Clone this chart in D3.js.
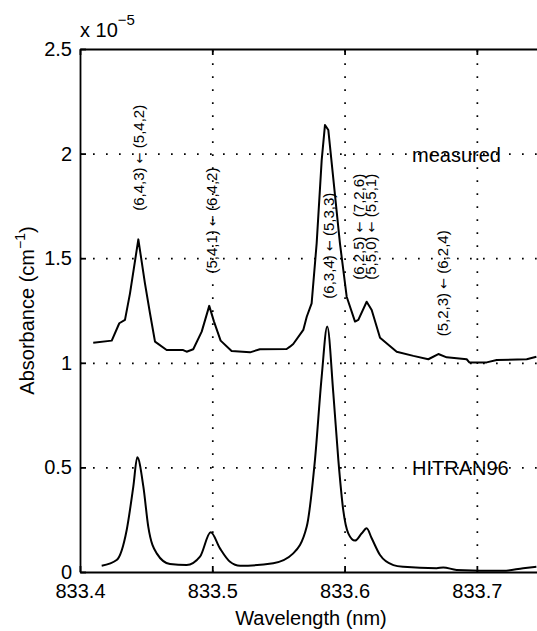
<!DOCTYPE html>
<html>
<head>
<meta charset="utf-8">
<script src="https://cdn.jsdelivr.net/npm/d3@7"></script>
<style>
  body { margin: 0; background: #fff; }
  svg { display: block; font-family: "Liberation Sans", Arial, sans-serif; }
  .grid line { stroke: #000; stroke-width: 1.7; stroke-dasharray: 1.7 11.3; }
  .grid .domain { display: none; }
  .axis .domain, .axis line { stroke: #000; stroke-width: 1.8; }
</style>
</head>
<body>
<div id="chart"></div>
<script>
// measured spectrum (wavelength nm, absorbance x1e-5)
const measuredWl = [833.410, 833.424, 833.4297, 833.434, 833.4378, 833.4441, 833.4491, 833.4529, 833.4567, 833.4655,
  833.478, 833.4806, 833.4856, 833.492, 833.4977, 833.5013, 833.5063, 833.5146, 833.5285, 833.536,
  833.5562, 833.5587, 833.5612, 833.5688, 833.5714, 833.5751, 833.5789, 833.5827, 833.5852, 833.5877,
  833.5965, 833.6016, 833.6079, 833.6104, 833.6167, 833.6205, 833.6268, 833.6394, 833.652, 833.6633,
  833.6709, 833.6772, 833.6923, 833.6943, 833.7074, 833.715, 833.7377, 833.745];
const measuredAbs = [1.096, 1.106, 1.189, 1.205, 1.332, 1.590, 1.380, 1.237, 1.101, 1.061,
  1.061, 1.053, 1.065, 1.149, 1.272, 1.197, 1.106, 1.056, 1.050, 1.065,
  1.066, 1.077, 1.090, 1.157, 1.220, 1.284, 1.571, 1.969, 2.137, 2.113,
  1.571, 1.316, 1.197, 1.205, 1.292, 1.252, 1.120, 1.053, 1.033, 1.017,
  1.042, 1.026, 1.017, 1.002, 1.002, 1.013, 1.017, 1.029];

// HITRAN96 simulation
const hitranWl = [833.4164, 833.4277, 833.4353, 833.4403, 833.4433, 833.4479, 833.4516, 833.458, 833.468, 833.4806,
  833.4907, 833.4988, 833.5058, 833.5134, 833.521, 833.5461, 833.5612, 833.5714, 833.5776, 833.5827,
  833.5869, 833.5915, 833.5953, 833.599, 833.6028, 833.6079, 833.613, 833.6167, 833.6205, 833.6268,
  833.6369, 833.6444, 833.6696, 833.6746, 833.6847, 833.72, 833.735, 833.745];
const hitranAbs = [0.030, 0.057, 0.201, 0.408, 0.548, 0.408, 0.217, 0.089, 0.038, 0.033,
  0.073, 0.190, 0.113, 0.049, 0.030, 0.042, 0.089, 0.217, 0.535, 0.934,
  1.173, 0.854, 0.535, 0.296, 0.185, 0.150, 0.185, 0.209, 0.161, 0.081,
  0.033, 0.025, 0.018, 0.022, 0.010, 0.006, 0.018, 0.025];

const xTicks = [833.4, 833.5, 833.6, 833.7];
const yTicks = [0, 0.5, 1, 1.5, 2, 2.5];

// line assignments: label anchor (wavelength, absorbance) and text lines [lower, upper]
const labelWl = [833.4445, 833.4995, 833.588, 833.6155, 833.6745];
const labelAbs = [1.98, 1.68, 1.56, 1.65, 1.38];
const labelLines = [
  [["(6,4,3)", "(5,4,2)"]],
  [["(5,4,1)", "(6,4,2)"]],
  [["(6,3,4)", "(5,3,3)"]],
  [["(6,2,5)", "(7,2,6)"], ["(5,5,0)", "(5,5,1)"]],
  [["(5,2,3)", "(6,2,4)"]]
];

const W = 537, H = 631;
const margin = { top: 49, left: 80, bottom: 59 };
const plotRight = 543;

const svg = d3.select("#chart").append("svg")
  .attr("width", W)
  .attr("height", H);

const x = d3.scaleLinear().domain([833.4, 833.75]).range([margin.left, plotRight]);
const y = d3.scaleLinear().domain([0, 2.5]).range([H - margin.bottom, margin.top]);

// dotted grid
svg.append("g")
  .attr("class", "grid")
  .attr("transform", `translate(0,${y(0)})`)
  .call(d3.axisBottom(x).tickValues([833.5, 833.6, 833.7]).tickSize(-(y(0) - y(2.5))).tickFormat(""));

svg.append("g")
  .attr("class", "grid")
  .attr("transform", `translate(${margin.left},0)`)
  .call(d3.axisLeft(y).tickValues([0.5, 1, 1.5, 2]).tickSize(-(plotRight - margin.left)).tickFormat(""));

// axes
const xAxis = svg.append("g")
  .attr("class", "axis")
  .attr("transform", `translate(0,${y(0)})`)
  .call(d3.axisBottom(x).tickValues(xTicks).tickSizeInner(-6).tickSizeOuter(0).tickPadding(12).tickFormat(d3.format(".1f")));

svg.append("g")
  .attr("class", "axis")
  .attr("transform", `translate(0,${y(2.5)})`)
  .call(d3.axisTop(x).tickValues(xTicks).tickSizeInner(-6).tickSizeOuter(0).tickFormat(""));

svg.append("g")
  .attr("class", "axis")
  .attr("transform", `translate(${margin.left},0)`)
  .call(d3.axisLeft(y).tickValues(yTicks).tickSizeInner(-6).tickSizeOuter(0).tickPadding(8).tickFormat(d => d));

svg.selectAll(".axis text")
  .attr("fill", "#000")
  .style("font-size", "20px")
  .style("font-family", "'Liberation Sans', Arial, sans-serif");
xAxis.selectAll("text").attr("dy", "0").attr("y", 26);

// curves
const lineGen = d3.line()
  .x(d => x(d[0]))
  .y(d => y(d[1]));

svg.append("path")
  .datum(d3.zip(measuredWl, measuredAbs))
  .attr("fill", "none")
  .attr("stroke", "#000")
  .attr("stroke-width", 2)
  .attr("stroke-linejoin", "round")
  .attr("d", lineGen);

svg.append("path")
  .datum(d3.zip(hitranWl, hitranAbs))
  .attr("fill", "none")
  .attr("stroke", "#000")
  .attr("stroke-width", 2)
  .attr("d", lineGen.curve(d3.curveMonotoneX));

// curve names
svg.append("text")
  .attr("x", 412).attr("y", y(2) + 8)
  .style("font-size", "20px")
  .text("measured");

svg.append("text")
  .attr("x", 412).attr("y", y(0.5) + 8)
  .style("font-size", "20px")
  .text("HITRAN96");

// rotational assignments
labelLines.forEach((lines, i) => {
  const t = svg.append("text")
    .attr("transform", `translate(${x(labelWl[i])},${y(labelAbs[i])}) rotate(-90)`)
    .attr("text-anchor", "middle")
    .style("font-size", "15px");
  lines.forEach((pair, j) => {
    const dy = j === 0 ? (lines.length > 1 ? "-0.1em" : "0.35em") : "0.8em";
    t.append("tspan").attr("x", 0).attr("dy", dy).text(pair[0] + " ");
    t.append("tspan").style("font-family", "'DejaVu Sans', sans-serif").style("font-size", "13px").text("\u2190");
    t.append("tspan").text(" " + pair[1]);
  });
});

// exponent
const ex = svg.append("text")
  .attr("x", margin.left).attr("y", 37)
  .style("font-size", "20px");
ex.append("tspan").text("x 10");
ex.append("tspan").attr("dy", -12).style("font-size", "15px").text("\u22125");

// axis titles
const yl = svg.append("text")
  .attr("transform", `translate(34,${(y(0) + y(2.5)) / 2}) rotate(-90)`)
  .attr("text-anchor", "middle")
  .style("font-size", "20px");
yl.append("tspan").text("Absorbance (cm");
yl.append("tspan").attr("dy", -9).style("font-size", "14px").text("\u22121");
yl.append("tspan").attr("dy", 9).text(")");

svg.append("text")
  .attr("x", 311).attr("y", 625)
  .attr("text-anchor", "middle")
  .style("font-size", "20px")
  .text("Wavelength (nm)");
</script>
</body>
</html>
